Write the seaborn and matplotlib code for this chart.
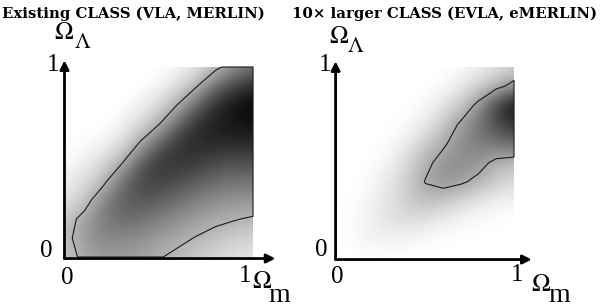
import numpy as np
import matplotlib
matplotlib.use("Agg")
import matplotlib.pyplot as plt
import seaborn as sns

sns.set_theme(style="white")
plt.rcParams["mathtext.fontset"] = "stix"
plt.rcParams["font.family"] = ["Liberation Serif", "DejaVu Serif"]

# grid positions (Omega_m along columns, Omega_Lambda along rows, top row = 1)
omega_m = [0.0, 0.1, 0.2, 0.3, 0.4, 0.5, 0.6, 0.7, 0.8, 0.9, 1.0]
omega_l = [1.0, 0.9, 0.8, 0.7, 0.6, 0.5, 0.4, 0.3, 0.2, 0.1, 0.0]

# likelihood shading (0 = white, 1 = black)
like_existing = [
    [0.00, 0.00, 0.00, 0.00, 0.00, 0.00, 0.03, 0.10, 0.24, 0.42, 0.55],
    [0.00, 0.00, 0.00, 0.00, 0.00, 0.04, 0.14, 0.29, 0.58, 0.74, 0.84],
    [0.00, 0.00, 0.00, 0.00, 0.05, 0.15, 0.31, 0.60, 0.82, 0.92, 0.98],
    [0.00, 0.00, 0.00, 0.05, 0.15, 0.30, 0.60, 0.82, 0.88, 0.92, 0.94],
    [0.00, 0.01, 0.04, 0.13, 0.32, 0.62, 0.80, 0.84, 0.84, 0.84, 0.85],
    [0.02, 0.06, 0.16, 0.28, 0.64, 0.78, 0.80, 0.77, 0.72, 0.69, 0.70],
    [0.06, 0.14, 0.24, 0.56, 0.72, 0.75, 0.70, 0.64, 0.58, 0.55, 0.55],
    [0.12, 0.20, 0.48, 0.62, 0.67, 0.63, 0.57, 0.50, 0.45, 0.42, 0.42],
    [0.20, 0.38, 0.52, 0.58, 0.56, 0.50, 0.44, 0.38, 0.34, 0.31, 0.28],
    [0.25, 0.40, 0.47, 0.47, 0.44, 0.39, 0.34, 0.29, 0.24, 0.20, 0.17],
    [0.22, 0.35, 0.39, 0.38, 0.36, 0.31, 0.26, 0.21, 0.16, 0.12, 0.10],
]
like_larger = [
    [0.00, 0.00, 0.00, 0.00, 0.00, 0.00, 0.00, 0.02, 0.06, 0.12, 0.18],
    [0.00, 0.00, 0.00, 0.00, 0.00, 0.00, 0.02, 0.08, 0.18, 0.28, 0.42],
    [0.00, 0.00, 0.00, 0.00, 0.00, 0.03, 0.10, 0.22, 0.40, 0.75, 0.95],
    [0.00, 0.00, 0.00, 0.00, 0.02, 0.08, 0.22, 0.38, 0.55, 0.70, 0.80],
    [0.00, 0.00, 0.00, 0.02, 0.08, 0.20, 0.32, 0.45, 0.50, 0.55, 0.60],
    [0.00, 0.00, 0.01, 0.05, 0.16, 0.30, 0.42, 0.45, 0.42, 0.30, 0.25],
    [0.00, 0.00, 0.03, 0.10, 0.20, 0.36, 0.42, 0.38, 0.30, 0.20, 0.15],
    [0.00, 0.01, 0.05, 0.12, 0.20, 0.26, 0.22, 0.16, 0.10, 0.06, 0.04],
    [0.00, 0.02, 0.07, 0.12, 0.14, 0.12, 0.07, 0.04, 0.02, 0.01, 0.00],
    [0.00, 0.02, 0.05, 0.05, 0.04, 0.02, 0.01, 0.00, 0.00, 0.00, 0.00],
    [0.00, 0.00, 0.01, 0.01, 0.00, 0.00, 0.00, 0.00, 0.00, 0.00, 0.00],
]
contour_levels = [0.30, 0.35]
titles = ["Existing CLASS (VLA, MERLIN)", "10\u00d7 larger CLASS (EVLA, eMERLIN)"]
tick_labels = ["0", "1"]

W, H = 600, 307
fig = plt.figure(figsize=(6.0, 3.07), dpi=100)


def px(x, y):
    return x / W, 1 - y / H


def add_panel(rect_px, grid, level, arrow_x, arrow_y):
    x0, y0, x1, y1 = rect_px
    ax = fig.add_axes([x0 / W, 1 - y1 / H, (x1 - x0) / W, (y1 - y0) / H])
    g = np.array(grid)
    step = omega_m[1] - omega_m[0]
    ax.imshow(g, cmap="gray_r", vmin=0, vmax=1, interpolation="bicubic",
              origin="upper", aspect="auto",
              extent=(omega_m[0] - step / 2, omega_m[-1] + step / 2,
                      omega_l[-1] - step / 2, omega_l[0] + step / 2))
    # contour, padded so that it closes along the edges of the domain
    gp = np.pad(g[::-1], 1, constant_values=-1.0)
    xs = np.concatenate([[omega_m[0] - 0.001], omega_m, [omega_m[-1] + 0.001]])
    ys_asc = omega_l[::-1]
    ys = np.concatenate([[ys_asc[0] - 0.001], ys_asc, [ys_asc[-1] + 0.001]])
    cs = ax.contour(xs, ys, gp, levels=[level], colors="#1a1a1a", linewidths=0.8)
    cs.set_clip_on(False)
    ax.set_xlim(0, 1)
    ax.set_ylim(0, 1)
    ax.axis("off")
    ap = dict(arrowstyle="-|>", color="black", lw=2.0, mutation_scale=13,
              shrinkA=0, shrinkB=0)
    ax.annotate("", xy=(arrow_x, -0.008), xytext=(-0.008, -0.008),
                arrowprops=ap, annotation_clip=False)
    ax.annotate("", xy=(-0.008, arrow_y), xytext=(-0.008, -0.008),
                arrowprops=ap, annotation_clip=False)
    return ax


add_panel((66, 67, 253, 257), like_existing, contour_levels[0], 1.12, 1.035)
add_panel((337, 67, 514, 258), like_larger, contour_levels[1], 1.10, 1.03)

num = dict(ha="center", va="center", fontsize=18, color="black")
# left panel labels
fig.text(*px(67, 278), tick_labels[0], **num)
fig.text(*px(245, 276), tick_labels[1], **num)
fig.text(*px(46, 251), tick_labels[0], **num)
fig.text(*px(53, 65), tick_labels[1], **num)
# right panel labels
fig.text(*px(337, 277), tick_labels[0], **num)
fig.text(*px(517, 275), tick_labels[1], **num)
fig.text(*px(321, 250), tick_labels[0], **num)
fig.text(*px(325, 65), tick_labels[1], **num)

om = dict(ha="center", va="center", fontsize=18, color="black")
sub = dict(ha="center", va="center", fontsize=16, color="black")
subm = dict(ha="center", va="center", fontsize=20, color="black")
# Omega_Lambda labels
fig.text(*px(64, 33), r"$\Omega$", **om)
fig.text(*px(83, 43), r"$\Lambda$", **sub)
fig.text(*px(339, 37), r"$\Omega$", **om)
fig.text(*px(356, 48), r"$\Lambda$", **sub)
# Omega_m labels
fig.text(*px(262, 282), r"$\Omega$", **om)
fig.text(*px(279, 296), "m", **subm)
fig.text(*px(541, 285), r"$\Omega$", **om)
fig.text(*px(559, 295), "m", **subm)

tt = dict(va="baseline", fontsize=10.7, fontweight="bold",
          family=["DejaVu Serif"], color="black")
fig.text(*px(2, 18), titles[0], ha="left", **tt)
fig.text(*px(597, 18), titles[1], ha="right", **tt)

fig.savefig("out.png", dpi=100, facecolor="white")
